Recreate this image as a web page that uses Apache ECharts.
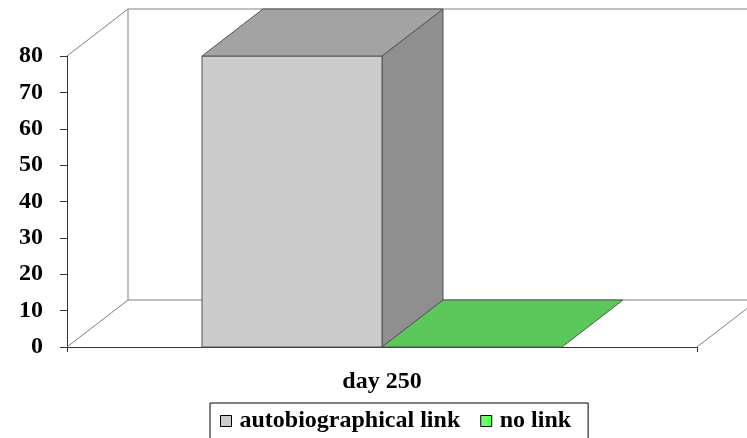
<!DOCTYPE html>
<html>
<head>
<meta charset="utf-8">
<script src="https://cdn.jsdelivr.net/npm/echarts@6/dist/echarts.min.js"></script>
<style>
  html, body { margin: 0; padding: 0; background: #fff; }
  #chart { width: 747px; height: 438px; }
</style>
</head>
<body>
<div id="chart"></div>
<script>
// Data
const categories = ['day 250'];
const seriesNames = ['autobiographical link', 'no link'];
const autobiographicalLink = [80];
const noLink = [0];
const yTicks = [0, 10, 20, 30, 40, 50, 60, 70, 80];

// Styling of the pseudo-3D box
const DEPTH_X = 61;
const DEPTH_Y = -47;
const GAP_RATIO = 1.5;          // gap width relative to one bar
const WALL_COLOR = '#808080';
const EDGE_COLOR = '#555555';
const FONT = '"Liberation Serif", "Times New Roman", serif';

const faceColors = [
  { legend: '#cccccc', front: '#cccccc', top: '#a3a3a3', side: '#8f8f8f' },
  { legend: '#66ff66', front: '#66ff66', top: '#5cc85c', side: '#4fae4f' }
];

const chart = echarts.init(document.getElementById('chart'), null, { renderer: 'canvas' });

function bandInfo(api, catIndex) {
  const center = api.coord([catIndex, 0])[0];
  const band = api.size([1, 0])[0];
  return { center: center, band: band };
}

// Floor, back wall and side wall of the plot box
function renderWalls(params, api) {
  const b = bandInfo(api, 0);
  const left = b.center - b.band / 2;
  const right = b.center + b.band / 2;
  const yMin = api.coord([0, yTicks[0]])[1];
  const yMax = api.coord([0, yTicks[yTicks.length - 1]])[1];
  const line = (x1, y1, x2, y2) => ({
    type: 'line',
    shape: { x1: x1, y1: y1, x2: x2, y2: y2 },
    style: { stroke: WALL_COLOR, lineWidth: 1 },
    silent: true
  });
  return {
    type: 'group',
    children: [
      line(left, yMax, left + DEPTH_X, yMax + DEPTH_Y),
      line(left + DEPTH_X, yMax + DEPTH_Y, right + DEPTH_X + 20, yMax + DEPTH_Y),
      line(left + DEPTH_X, yMax + DEPTH_Y, left + DEPTH_X, yMin + DEPTH_Y),
      line(left, yMin, left + DEPTH_X, yMin + DEPTH_Y),
      line(left + DEPTH_X, yMin + DEPTH_Y, right + DEPTH_X + 20, yMin + DEPTH_Y),
      line(right, yMin, right + DEPTH_X, yMin + DEPTH_Y)
    ]
  };
}

// A 3D column: front face, top face and right side face
function makeBarRenderer(slot, colors) {
  return function (params, api) {
    const cat = api.value(0);
    const val = api.value(1);
    const b = bandInfo(api, cat);
    const barW = b.band / (2 + GAP_RATIO);
    const L = b.center - barW + slot * barW;
    const R = L + barW;
    const yb = api.coord([cat, 0])[1];
    const yt = api.coord([cat, val])[1];
    const edge = { stroke: EDGE_COLOR, lineWidth: 1, lineJoin: 'miter' };
    const children = [];
    if (yb - yt > 0.5) {
      children.push({
        type: 'polygon',
        shape: { points: [[R, yt], [R + DEPTH_X, yt + DEPTH_Y], [R + DEPTH_X, yb + DEPTH_Y], [R, yb]] },
        style: Object.assign({ fill: colors.side }, edge)
      });
      children.push({
        type: 'rect',
        shape: { x: L, y: yt, width: barW, height: yb - yt },
        style: Object.assign({ fill: colors.front }, edge)
      });
    }
    children.push({
      type: 'polygon',
      shape: { points: [[L, yt], [L + DEPTH_X, yt + DEPTH_Y], [R + DEPTH_X, yt + DEPTH_Y], [R, yt]] },
      style: Object.assign({ fill: colors.top }, edge)
    });
    return { type: 'group', children: children };
  };
}

const seriesValues = [autobiographicalLink, noLink];

const option = {
  animation: false,
  backgroundColor: '#ffffff',
  grid: { left: 67, right: 50, top: 56, bottom: 91, containLabel: false },
  legend: {
    data: seriesNames.map((n, i) => ({
      name: n,
      itemStyle: { color: faceColors[i].legend, borderColor: '#000', borderWidth: 1 }
    })),
    left: 210,
    top: 403,
    width: 380,
    itemWidth: 11,
    itemHeight: 11,
    itemGap: 20,
    icon: 'rect',
    padding: [6, 17, 8, 10],
    borderColor: '#000',
    borderWidth: 1,
    borderRadius: 0,
    textStyle: {
      fontFamily: FONT,
      fontWeight: 'bold',
      fontSize: 24,
      color: '#000',
      padding: [0, 0, 0, 3]
    }
  },
  xAxis: {
    type: 'category',
    data: categories,
    boundaryGap: true,
    axisLine: { show: true, lineStyle: { color: '#333', width: 1 } },
    axisTick: { show: true, length: 5, lineStyle: { color: '#333' } },
    axisLabel: {
      margin: 23,
      fontFamily: FONT,
      fontWeight: 'bold',
      fontSize: 24,
      color: '#000'
    },
    splitLine: { show: false }
  },
  yAxis: {
    type: 'value',
    min: yTicks[0],
    max: yTicks[yTicks.length - 1],
    interval: yTicks[1] - yTicks[0],
    axisLine: { show: true, lineStyle: { color: '#333', width: 1 } },
    axisTick: { show: true, length: 7, lineStyle: { color: '#333' } },
    axisLabel: {
      margin: 24,
      fontFamily: FONT,
      fontWeight: 'bold',
      fontSize: 24,
      color: '#000'
    },
    splitLine: { show: false }
  },
  series: [
    {
      name: '__walls',
      type: 'custom',
      renderItem: renderWalls,
      data: [[0, 0]],
      encode: { x: 0, y: 1 },
      silent: true,
      z: 1,
      clip: false
    }
  ].concat(seriesNames.map((name, i) => ({
    name: name,
    type: 'custom',
    renderItem: makeBarRenderer(i, faceColors[i]),
    data: seriesValues[i].map((v, c) => [c, v]),
    encode: { x: 0, y: 1 },
    itemStyle: { color: faceColors[i].legend },
    z: 2 + i,
    clip: false
  })))
};

chart.setOption(option);
</script>
</body>
</html>
